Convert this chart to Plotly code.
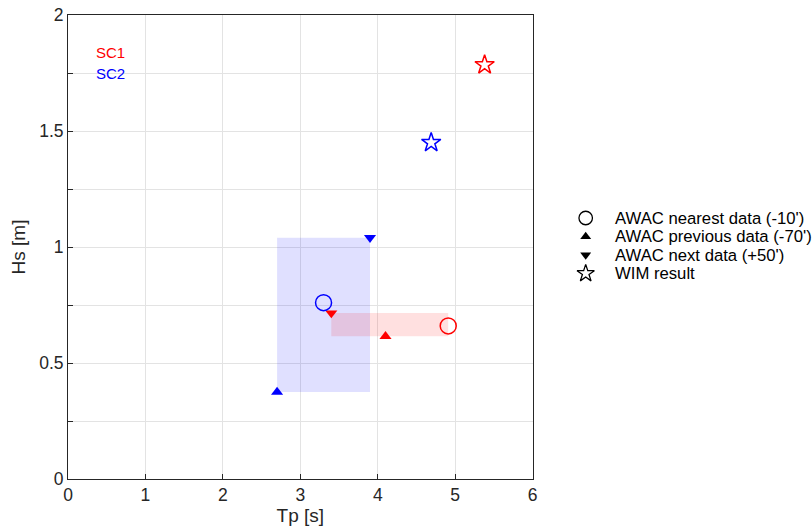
import plotly.graph_objects as go

# Data (Tp [s], Hs [m])
sc1_nearest = (4.91, 0.66)
sc1_prev = (4.10, 0.615)
sc1_next = (3.40, 0.715)
sc1_wim = (5.38, 1.785)

sc2_nearest = (3.30, 0.76)
sc2_prev = (2.70, 0.375)
sc2_next = (3.90, 1.04)
sc2_wim = (4.69, 1.45)

x_ticks = [0, 1, 2, 3, 4, 5, 6]
y_ticks = [0, 0.25, 0.5, 0.75, 1, 1.25, 1.5, 1.75, 2]
y_tick_labels = ["0", "", "0.5", "", "1", "", "1.5", "", "2"]

legend_labels = ["AWAC nearest data (-10')", "AWAC previous data (-70')",
                 "AWAC next data (+50')", "WIM result"]

W, H = 812, 529
ML, MR, MT, MB = 68, 5, 15, 50
EFF_PW = 733          # effective plotting width observed in the browser
PLOT_W = 464          # main axes width in px
main_frac = PLOT_W / EFF_PW

fig = go.Figure()

def rect(pts, fillcolor):
    xs = [p[0] for p in pts]
    ys = [p[1] for p in pts]
    x0, x1, y0, y1 = min(xs), max(xs), min(ys), max(ys)
    fig.add_trace(go.Scatter(x=[x0, x1, x1, x0, x0], y=[y0, y0, y1, y1, y0],
                             fill="toself", fillcolor=fillcolor, mode="none",
                             showlegend=False, hoverinfo="skip"))

rect([sc2_prev, sc2_next], "rgba(0,0,255,0.12)")
rect([sc1_nearest, sc1_prev, sc1_next], "rgba(255,0,0,0.12)")

def pts(p, symbol, color, size, lw=0):
    fig.add_trace(go.Scatter(
        x=[p[0]], y=[p[1]], mode="markers", showlegend=False,
        marker=dict(symbol=symbol, size=size, color=color,
                    line=dict(color=color, width=lw))))

for col, near, prev, nxt, wim in [("#ff0000", sc1_nearest, sc1_prev, sc1_next, sc1_wim),
                                  ("#0000ff", sc2_nearest, sc2_prev, sc2_next, sc2_wim)]:
    pts(near, "circle-open", col, 16, 1.5)
    pts(prev, "triangle-up", col, 10.5)
    pts(nxt, "triangle-down", col, 10.5)
    pts(wim, "star-open", col, 14.5, 1.5)

# Manual legend drawn on an auxiliary pixel-scaled axis in the right area
leg_syms = [("circle-open", 13.5, 1.3), ("triangle-up", 9.5, 0),
            ("triangle-down", 9.5, 0), ("star-open", 13, 1.3)]
leg_x_marker, leg_x_text, leg_y0, leg_dy = 585, 612, 218, 18.5
for i, (lab, (sym, sz, lw)) in enumerate(zip(legend_labels, leg_syms)):
    yy = leg_y0 + i * leg_dy
    fig.add_trace(go.Scatter(x=[leg_x_marker], y=[yy], mode="markers", showlegend=False,
                             xaxis="x2", yaxis="y2", hoverinfo="skip",
                             marker=dict(symbol=sym, size=sz, color="black",
                                         line=dict(color="black", width=lw))))
    fig.add_annotation(x=leg_x_text, y=yy, xref="x2", yref="y2", text=lab,
                       showarrow=False, xanchor="left", yanchor="middle",
                       font=dict(size=16.7, color="black"))

fig.add_annotation(x=0.55, y=1.838, text="SC1", showarrow=False,
                   font=dict(color="#ff0000", size=15))
fig.add_annotation(x=0.55, y=1.747, text="SC2", showarrow=False,
                   font=dict(color="#0000ff", size=15))

axis_common = dict(showgrid=True, gridcolor="#e3e3e3", gridwidth=1,
                   showline=True, linecolor="#262626", linewidth=1, mirror=True,
                   ticks="inside", ticklen=5, tickcolor="#262626",
                   zeroline=False, tickfont=dict(size=17.5, color="#262626"))

fig.update_layout(
    width=W, height=H,
    margin=dict(l=ML, r=MR, t=MT, b=MB),
    paper_bgcolor="white", plot_bgcolor="white",
    font=dict(family="Liberation Sans, Arial, sans-serif", color="#262626"),
    showlegend=False,
    xaxis=dict(domain=[0, main_frac], range=[0, 6], tickvals=x_ticks,
               title=dict(text="Tp [s]", font=dict(size=19), standoff=4), **axis_common),
    yaxis=dict(range=[0, 2], tickvals=y_ticks, ticktext=y_tick_labels,
               title=dict(text="Hs [m]", font=dict(size=19), standoff=8), **axis_common),
    xaxis2=dict(domain=[main_frac, 1], range=[ML + PLOT_W, ML + EFF_PW], visible=False,
                anchor="y2", fixedrange=True),
    yaxis2=dict(domain=[0, 1], range=[H - MB, MT], visible=False,
                anchor="x2", fixedrange=True),
)

fig.write_html("out.html")
